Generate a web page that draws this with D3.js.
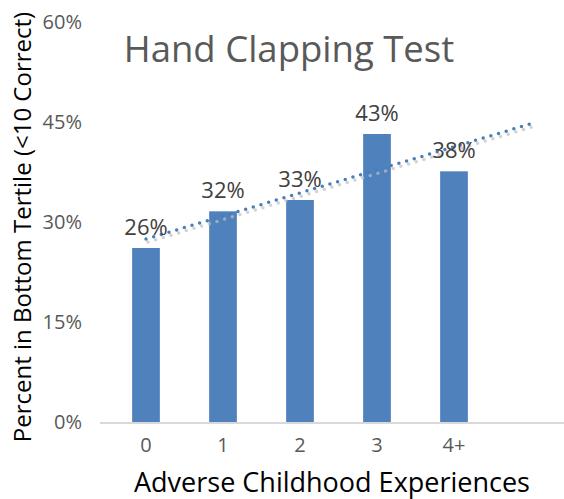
<!DOCTYPE html>
<html>
<head>
<meta charset="utf-8">
<script src="https://cdn.jsdelivr.net/npm/d3@7"></script>
<style>
  body { margin: 0; background: #fff; }
  svg { display: block; font-family: "Open Sans", "Noto Sans", sans-serif; }
</style>
</head>
<body>
<svg id="chart"></svg>
<script>
const categories = ['0', '1', '2', '3', '4+', ''];
const values = [0.261, 0.316, 0.333, 0.432, 0.376];
const valueLabels = ['26%', '32%', '33%', '43%', '38%'];
const yTicks = [0, 0.15, 0.30, 0.45, 0.60];

const width = 564;
const height = 499;

const svg = d3.select('#chart')
  .attr('width', width)
  .attr('height', height);

const x = d3.scaleBand()
  .domain(categories)
  .range([107.5, 569.5])
  .paddingInner(0.64)
  .paddingOuter(0.32);

const y = d3.scaleLinear()
  .domain([0, 0.6])
  .range([422, 22]);

const center = c => x(c) + x.bandwidth() / 2;

// title
svg.append('text')
  .attr('x', 289)
  .attr('y', 62)
  .attr('text-anchor', 'middle')
  .style('font-size', '36.5px')
  .style('fill', '#595959')
  .text('Hand Clapping Test');

// y tick labels (no gridlines)
svg.selectAll('.ytick')
  .data(yTicks)
  .enter()
  .append('text')
  .attr('x', 82)
  .attr('y', d => y(d) + 7)
  .attr('text-anchor', 'end')
  .style('font-size', '20px')
  .style('fill', '#595959')
  .text(d3.format('.0%'));

// bars
svg.selectAll('.bar')
  .data(values)
  .enter()
  .append('rect')
  .attr('x', (d, i) => x(categories[i]))
  .attr('y', d => y(d))
  .attr('width', x.bandwidth())
  .attr('height', d => y(0) - y(d))
  .attr('fill', '#4f81bd');

// x axis line
svg.append('line')
  .attr('x1', 100)
  .attr('x2', width)
  .attr('y1', y(0) + 1)
  .attr('y2', y(0) + 1)
  .attr('stroke', '#d9d9d9')
  .attr('stroke-width', 2);

// category labels
svg.selectAll('.xtick')
  .data(categories)
  .enter()
  .append('text')
  .attr('x', d => center(d))
  .attr('y', 452)
  .attr('text-anchor', 'middle')
  .style('font-size', '20px')
  .style('fill', '#595959')
  .text(d => d);

// linear trendline, forecast forward one period
const xs = values.map((d, i) => i);
const mx = d3.mean(xs);
const my = d3.mean(values);
const slope = d3.sum(xs, (xi, i) => (xi - mx) * (values[i] - my)) / d3.sum(xs, xi => (xi - mx) ** 2);
const intercept = my - slope * mx;
const trend = [0, categories.length - 1].map(i => [center(categories[i]), y(intercept + slope * i)]);

const line = d3.line();

// soft shadow under the trendline
svg.append('path')
  .attr('d', line(trend.map(p => [p[0] + 2, p[1] + 3])))
  .attr('fill', 'none')
  .attr('stroke', '#bfbfbf')
  .attr('stroke-width', 3.5)
  .attr('stroke-linecap', 'round')
  .attr('stroke-dasharray', '0 8')
  .style('opacity', 0.7);

svg.append('path')
  .attr('d', line(trend))
  .attr('fill', 'none')
  .attr('stroke', '#4a7ebb')
  .attr('stroke-width', 3.5)
  .attr('stroke-linecap', 'round')
  .attr('stroke-dasharray', '0 8');

// data labels
svg.selectAll('.vlabel')
  .data(values)
  .enter()
  .append('text')
  .attr('x', (d, i) => center(categories[i]))
  .attr('y', d => y(d) - 13)
  .attr('text-anchor', 'middle')
  .style('font-size', '22px')
  .style('fill', '#404040')
  .text((d, i) => valueLabels[i]);

// axis titles
svg.append('text')
  .attr('transform', 'translate(31,227) rotate(-90)')
  .attr('text-anchor', 'middle')
  .style('font-size', '24px')
  .style('fill', '#000')
  .text('Percent in Bottom Tertile (<10 Correct)');

svg.append('text')
  .attr('x', 332)
  .attr('y', 492)
  .attr('text-anchor', 'middle')
  .style('font-size', '27px')
  .style('fill', '#000')
  .text('Adverse Childhood Experiences');
</script>
</body>
</html>
